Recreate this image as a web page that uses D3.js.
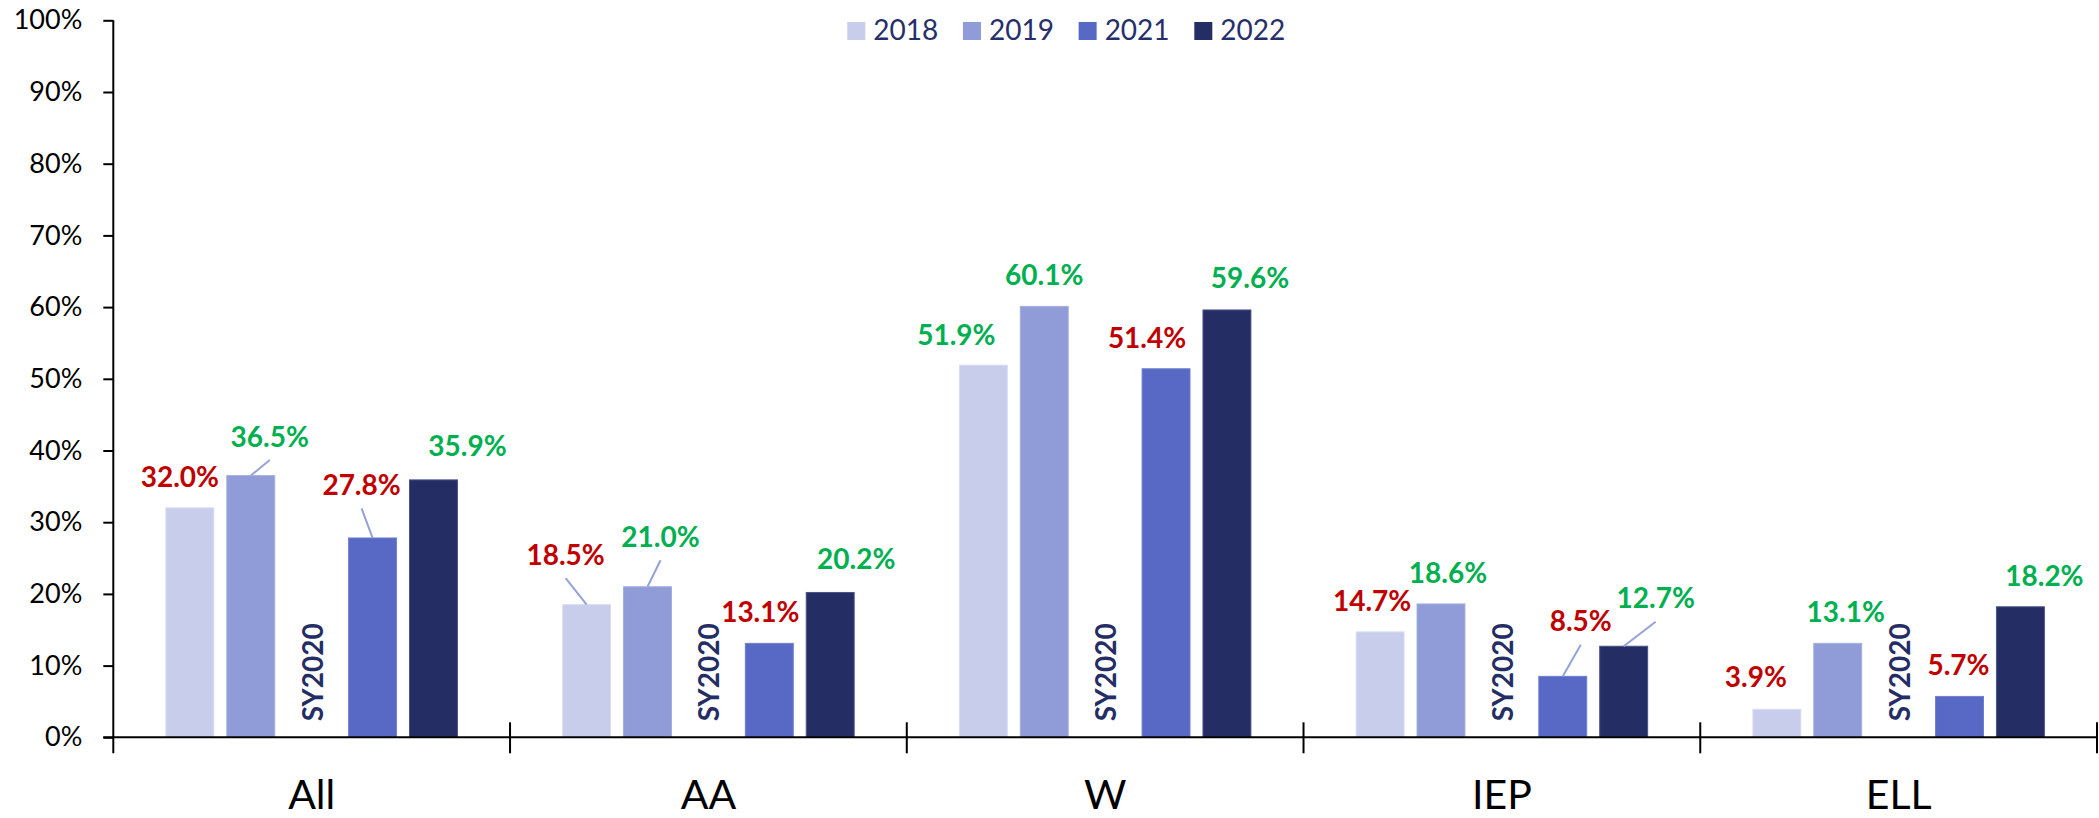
<!DOCTYPE html>
<html>
<head>
<meta charset="utf-8">
<script src="https://cdn.jsdelivr.net/npm/d3@7"></script>
<style>
  html, body { margin: 0; padding: 0; background: #fff; }
  svg { display: block; }
  text { font-family: Lato, "Open Sans", sans-serif; }
</style>
</head>
<body>
<svg id="chart" width="2099" height="818"></svg>
<script>
// ---------- data ----------
const categories = ["All", "AA", "W", "IEP", "ELL"];
const slots = ["2018", "2019", "2020", "2021", "2022"];
const years = ["2018", "2019", "2021", "2022"];
const v2018 = [32.0, 18.5, 51.9, 14.7, 3.9];
const v2019 = [36.5, 21.0, 60.1, 18.6, 13.1];
const v2021 = [27.8, 13.1, 51.4, 8.5, 5.7];
const v2022 = [35.9, 20.2, 59.6, 12.7, 18.2];
const gapSlot = "2020";
const gapLabel = "SY2020";
const yTicks = [0, 10, 20, 30, 40, 50, 60, 70, 80, 90, 100];
// label trend: "up" = green, "down" = red
const t2018 = ["down", "down", "up", "down", "down"];
const t2019 = ["up", "up", "up", "up", "up"];
const t2021 = ["down", "down", "down", "down", "down"];
const t2022 = ["up", "up", "up", "up", "up"];

// ---------- layout / style ----------
const W = 2099, H = 818;
const plotLeft = 113.3, plotRight = 2097, plotTop = 20.3, plotBottom = 737.3;
const colors = { "2018": "#C8CDEC", "2019": "#8F9CD7", "2021": "#5769C5", "2022": "#242D64" };
const strokeColors = { "2018": "#D8DCF2", "2019": "#A4AFDF", "2021": "#6F7FCF", "2022": "#4A5388" };
const trendColor = { up: "#00B050", down: "#C00000" };
// manual label placement per category (dx from bar center, dy of baseline from bar top, leader)
const labelPlacement = {
  All: { "2018": [-10, -21, false], "2019": [19, -29, true], "2021": [-11, -43, true], "2022": [34, -24, false] },
  AA:  { "2018": [-21, -40, true], "2019": [13, -40, true], "2021": [-9, -21, false], "2022": [26, -23, false] },
  W:   { "2018": [-27, -20, false], "2019": [0, -21, false], "2021": [-19, -21, false], "2022": [23, -22, false] },
  IEP: { "2018": [-8, -21, false], "2019": [7, -21, false], "2021": [18, -45, true], "2022": [32, -38, true] },
  ELL: { "2018": [-21, -22, false], "2019": [8, -21, false], "2021": [-1, -21, false], "2022": [24, -21, false] }
};

const seriesValues = { "2018": v2018, "2019": v2019, "2021": v2021, "2022": v2022 };
const seriesTrend = { "2018": t2018, "2019": t2019, "2021": t2021, "2022": t2022 };

const svg = d3.select("#chart");

const x0 = d3.scaleBand().domain(categories).range([plotLeft, plotRight]).paddingInner(0).paddingOuter(0);
const x1 = d3.scaleBand().domain(slots).range([0, x0.bandwidth()]).paddingInner(0.213).paddingOuter(0.864);
const y = d3.scaleLinear().domain([0, 100]).range([plotBottom, plotTop]);

// bars
const barData = [];
categories.forEach((c, i) => {
  years.forEach(yr => {
    barData.push({ cat: c, year: yr, value: seriesValues[yr][i], trend: seriesTrend[yr][i] });
  });
});

svg.append("g").selectAll("rect").data(barData).join("rect")
  .attr("x", d => x0(d.cat) + x1(d.year))
  .attr("y", d => y(d.value))
  .attr("width", x1.bandwidth())
  .attr("height", d => y(0) - y(d.value))
  .attr("fill", d => colors[d.year])
  .attr("stroke", d => strokeColors[d.year])
  .attr("stroke-width", 1);

// leader lines and labels
const lbl = svg.append("g");
barData.forEach(d => {
  const p = labelPlacement[d.cat][d.year];
  const cx = x0(d.cat) + x1(d.year) + x1.bandwidth() / 2;
  const top = y(d.value);
  const lx = cx + p[0], ly = top + p[1];
  if (p[2]) {
    lbl.append("line")
      .attr("x1", lx).attr("y1", ly + 13.5)
      .attr("x2", cx).attr("y2", top)
      .attr("stroke", "#95A2DA").attr("stroke-width", 2);
  }
  lbl.append("text")
    .attr("x", lx).attr("y", ly)
    .attr("text-anchor", "middle")
    .attr("font-size", 28).attr("font-weight", 700)
    .attr("fill", trendColor[d.trend])
    .text(d.value.toFixed(1) + "%");
});

// SY2020 gap labels
svg.append("g").selectAll("text").data(categories).join("text")
  .attr("transform", c => `translate(${x0(c) + x1(gapSlot) + x1.bandwidth() / 2},${plotBottom - 16}) rotate(-90)`)
  .attr("text-anchor", "start")
  .attr("dominant-baseline", "central")
  .attr("font-size", 28).attr("font-weight", 700)
  .attr("fill", "#242D64")
  .text(gapLabel);

// y axis
const yAxis = svg.append("g").attr("transform", `translate(${plotLeft},0)`)
  .call(d3.axisLeft(y).tickValues(yTicks).tickSize(10).tickPadding(21).tickFormat(d => d + "%"));
yAxis.select(".domain").remove();
yAxis.selectAll(".tick line").attr("stroke", "#000").attr("stroke-width", 2);
yAxis.selectAll(".tick text").attr("font-size", 27).attr("fill", "#000")
  .attr("font-family", "Lato, sans-serif");
svg.append("line").attr("x1", plotLeft).attr("x2", plotLeft)
  .attr("y1", plotTop).attr("y2", plotBottom + 16)
  .attr("stroke", "#000").attr("stroke-width", 2);

// x axis
const xAxis = svg.append("g").attr("transform", `translate(0,${plotBottom})`)
  .call(d3.axisBottom(x0).tickSize(0).tickPadding(0));
xAxis.select(".domain").remove();
xAxis.selectAll(".tick text").attr("font-size", 41).attr("fill", "#000")
  .attr("font-family", "Lato, sans-serif").attr("dy", null).attr("y", 809 - plotBottom);
svg.append("line").attr("x1", plotLeft - 10).attr("x2", plotRight)
  .attr("y1", plotBottom).attr("y2", plotBottom)
  .attr("stroke", "#000").attr("stroke-width", 2);
// category boundary ticks
const bounds = categories.map(c => x0(c)).concat([x0(categories[categories.length - 1]) + x0.bandwidth()]);
svg.append("g").selectAll("line").data(bounds.slice(1)).join("line")
  .attr("x1", d => Math.min(d, W - 2)).attr("x2", d => Math.min(d, W - 2))
  .attr("y1", plotBottom - 15).attr("y2", plotBottom + 16)
  .attr("stroke", "#000").attr("stroke-width", 2);

// legend
const legendX = d3.scalePoint().domain(years).range([847.3, 1194.3]);
const lg = svg.append("g").selectAll("g").data(years).join("g")
  .attr("transform", d => `translate(${legendX(d)},0)`);
lg.append("rect").attr("x", 0).attr("y", 22).attr("width", 18).attr("height", 18)
  .attr("fill", d => colors[d]);
lg.append("text").attr("x", 26).attr("y", 39.5)
  .attr("font-size", 28).attr("fill", "#262F6B").text(d => d);
</script>
</body>
</html>
